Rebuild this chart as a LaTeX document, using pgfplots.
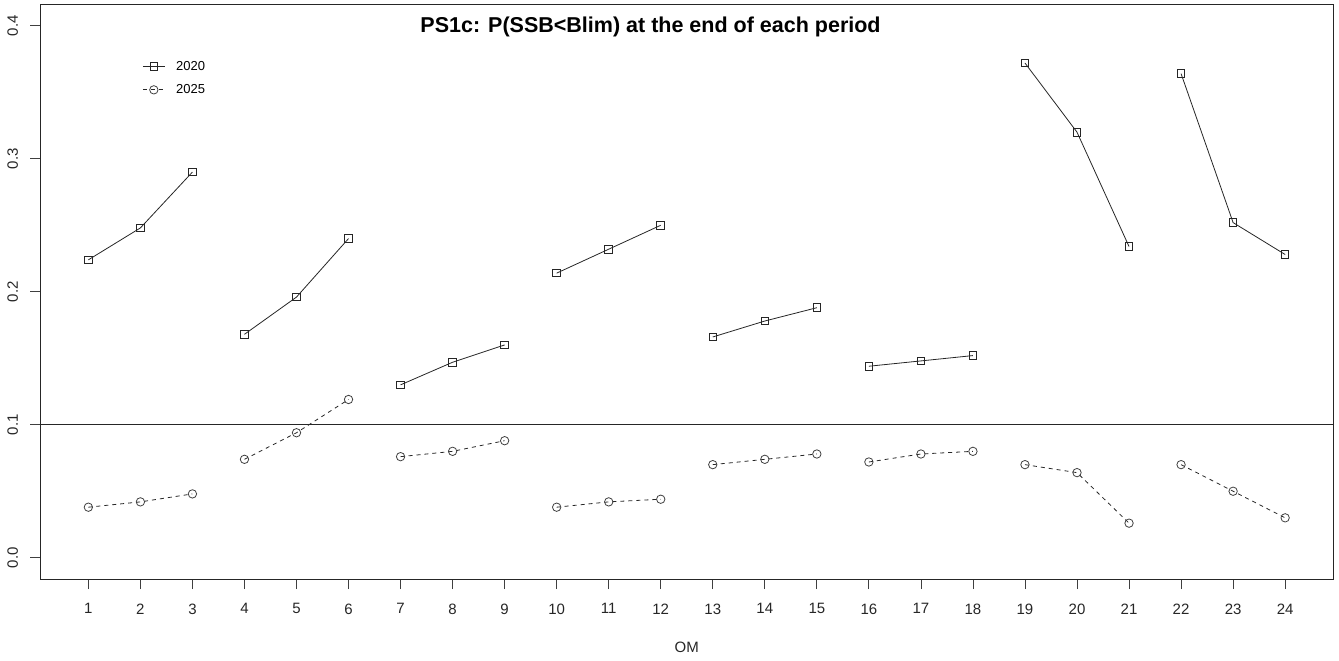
\documentclass[border=0pt]{standalone}
\usepackage{pgfplots}
\pgfplotsset{compat=1.18}
\usepackage{fontspec}
\setmainfont{Liberation Sans}
\begin{document}
\begin{tikzpicture}
\begin{axis}[
  scale only axis,
  width=1292.5pt, height=574.5pt,
  xmin=0.08, xmax=24.92,
  ymin=-0.016, ymax=0.416,
  xtick={1,...,24},
  ytick={0,0.1,0.2,0.3,0.4},
  yticklabels={0.0,0.1,0.2,0.3,0.4},
  /pgf/number format/assume math mode=true,
  tick align=outside,
  major tick length=10pt,
  tick style={black!75, line width=0.8pt},
  axis line style={black!85, line width=0.9pt},
  xtick pos=bottom, ytick pos=left,
  ticklabel style={font=\fontsize{15}{16}\selectfont, black!85},
  xticklabel style={yshift=-11pt},
  yticklabel style={rotate=90, anchor=south, yshift=9pt},
  xlabel={OM},
  xlabel style={font=\fontsize{15}{16}\selectfont, black!85, yshift=-21pt},
  unbounded coords=jump,
  legend style={draw=none, fill=none, at={(rel axis cs:0.0764,0.909)}, anchor=north west,
    font=\fontsize{13}{14}\selectfont, row sep=9pt,
    /tikz/every odd column/.append style={column sep=9pt}},
  legend image code/.code={
    \draw[#1] (0pt,0pt) -- (22pt,0pt);
    \draw[#1, solid] plot coordinates {(11pt,0pt)};
  },
  legend cell align=left,
  clip=false,
]
\addplot[black!85, line width=0.8pt, mark=square, mark size=3.8pt, mark options={solid, line width=0.9pt}] coordinates {
(1,0.224) (2,0.248) (3,0.290) (3.5,nan)
(4,0.168) (5,0.196) (6,0.240) (6.5,nan)
(7,0.130) (8,0.147) (9,0.160) (9.5,nan)
(10,0.214) (11,0.232) (12,0.250) (12.5,nan)
(13,0.166) (14,0.178) (15,0.188) (15.5,nan)
(16,0.144) (17,0.148) (18,0.152) (18.5,nan)
(19,0.372) (20,0.320) (21,0.234) (21.5,nan)
(22,0.364) (23,0.252) (24,0.228)
};
\addlegendentry{2020}
\addplot[black!85, line width=0.8pt, dash pattern=on 4pt off 4pt, mark=o, mark size=4.2pt, mark options={solid, line width=0.8pt, black!75}] coordinates {
(1,0.038) (2,0.042) (3,0.048) (3.5,nan)
(4,0.074) (5,0.094) (6,0.119) (6.5,nan)
(7,0.076) (8,0.080) (9,0.088) (9.5,nan)
(10,0.038) (11,0.042) (12,0.044) (12.5,nan)
(13,0.070) (14,0.074) (15,0.078) (15.5,nan)
(16,0.072) (17,0.078) (18,0.080) (18.5,nan)
(19,0.070) (20,0.064) (21,0.026) (21.5,nan)
(22,0.070) (23,0.050) (24,0.030)
};
\addlegendentry{2025}
\addplot[black!85, line width=0.9pt, forget plot] coordinates {(0.08,0.1) (24.92,0.1)};
\node[font=\bfseries\fontsize{21.5}{23}\selectfont, anchor=center] at (rel axis cs:0.472,0.9606) {PS1c: P(SSB<Blim) at the end of each period};
\end{axis}
\path (current axis.south west) ++(-40.5pt,-81pt) coordinate (bbsw);
\path (current axis.north east) ++(6pt,4.5pt) coordinate (bbne);
\useasboundingbox (bbsw) rectangle (bbne);
\end{tikzpicture}
\end{document}
